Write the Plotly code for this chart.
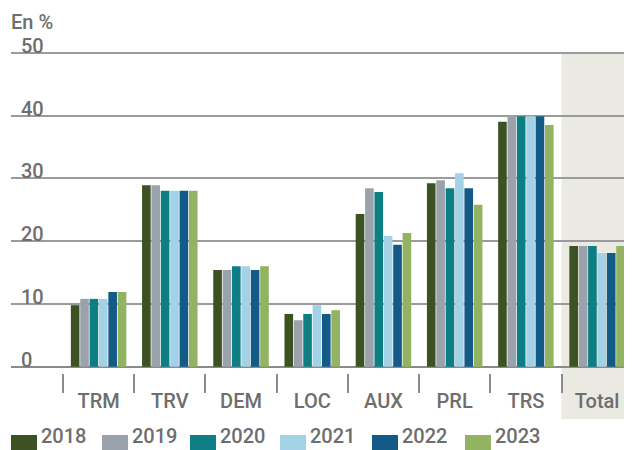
import plotly.graph_objects as go

categories = ["TRM", "TRV", "DEM", "LOC", "AUX", "PRL", "TRS", "Total"]
years = ["2018", "2019", "2020", "2021", "2022", "2023"]
v2018 = [9.8, 28.9, 15.4, 8.4, 24.3, 29.2, 39.0, 19.2]
v2019 = [10.8, 28.9, 15.4, 7.4, 28.4, 29.7, 39.9, 19.2]
v2020 = [10.8, 28.0, 16.0, 8.4, 27.8, 28.4, 39.9, 19.2]
v2021 = [10.8, 28.0, 16.0, 9.8, 20.8, 30.8, 39.9, 18.1]
v2022 = [11.9, 28.0, 15.4, 8.4, 19.4, 28.4, 39.9, 18.1]
v2023 = [11.9, 28.0, 16.0, 9.0, 21.3, 25.8, 38.5, 19.2]
series = [v2018, v2019, v2020, v2021, v2022, v2023]
colors = ["#3C5223", "#9AA2AC", "#0E7E85", "#A3D2E6", "#135B86", "#92B462"]

OFF = 8  # page body margin
W, H = 632 - OFF, 450 - OFF
TXT = "#6e6e6e"
FONT = "Roboto"
FS = 20
F = dict(size=FS, color=TXT, family=FONT, weight=500)

fig = go.Figure()
for y, vals, c in zip(years, series, colors):
    fig.add_trace(go.Bar(x=categories, y=vals, name=y, marker_color=c,
                         marker_line_width=0, showlegend=False))

def px(x):
    return (x - OFF) / W

def py(y):
    return 1 - (y - OFF) / H

y0px, y50px = 366.7, 52.7
scale = (y0px - y50px) / 50
ybot, ytop = -1.5, 55.5
dom_bot = py(y0px - ybot * scale)
dom_top = min(1.0, py(y0px - ytop * scale))

fig.update_layout(
    width=W, height=H,
    margin=dict(l=0, r=0, t=0, b=0),
    paper_bgcolor="white", plot_bgcolor="rgba(0,0,0,0)",
    barmode="group", bargap=0.21, bargroupgap=0.08,
    font=F,
    xaxis=dict(
        domain=[px(11), 1], range=[-1.23, 7.49], type="category",
        anchor="free", position=py(373),
        showgrid=False, zeroline=False, showline=False,
        ticks="outside", tickson="boundaries", ticklen=19, tickwidth=2,
        tickcolor="#8c8c8c", tickfont=F, ticklabelstandoff=14,
    ),
    yaxis=dict(
        domain=[dom_bot, dom_top], range=[ybot, ytop],
        tickvals=[0, 10, 20, 30, 40, 50],
        showgrid=True, gridcolor="#9b9b9b", gridwidth=2,
        zeroline=True, zerolinecolor="#8a8a8a", zerolinewidth=2,
        showline=False, ticks="",
        ticklabelposition="inside top", ticklabelstandoff=7,
        ticklabelshift=7,
        tickfont=F,
    ),
    shapes=[dict(type="rect", xref="x", yref="paper", x0=6.5, x1=7.49,
                 y0=py(419), y1=py(y50px), fillcolor="#EAE9E2",
                 line_width=0, layer="below")],
)

fig.add_annotation(text="En %", x=px(9), y=py(22), xref="paper", yref="paper",
                   xanchor="left", yanchor="middle", showarrow=False, font=F)

starts = [11, 102, 190, 280, 372, 465]
for s, y, c in zip(starts, years, colors):
    fig.add_shape(type="rect", xref="paper", yref="paper",
                  x0=px(s), x1=px(s + 26), y0=py(450), y1=py(435),
                  fillcolor=c, line_width=0)
    fig.add_annotation(text=y, x=px(s + 28), y=py(450), xref="paper", yref="paper",
                       xanchor="left", yanchor="bottom", showarrow=False, font=F)

fig.write_html("out.html")
